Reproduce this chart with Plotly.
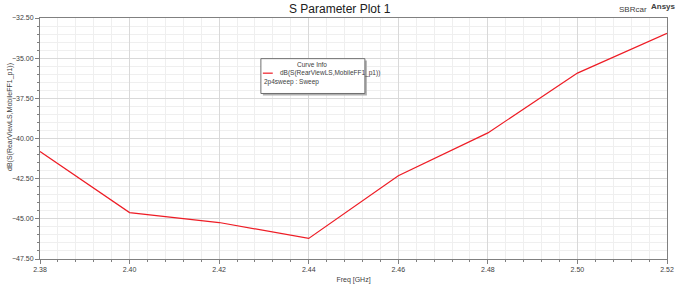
import plotly.graph_objects as go

freq = [2.38, 2.40, 2.42, 2.44, 2.46, 2.48, 2.50, 2.52]
db_s = [-40.81, -44.61, -45.23, -46.22, -42.32, -39.65, -35.93, -33.46]
trace_name = "dB(S(RearViewLS,MobileFF1_p1))"
x_ticks = [2.38, 2.40, 2.42, 2.44, 2.46, 2.48, 2.50, 2.52]
y_ticks = [-47.5, -45.0, -42.5, -40.0, -37.5, -35.0, -32.5]

W, H = 686, 294
L, R, T, B = 40, 13, 18, 27
pw, ph = W - L - R, H - T - B

def px(xp):
    return (xp - L) / pw

def py(yp):
    return (H - B - yp) / ph

FONT = "Liberation Sans, Arial, sans-serif"

fig = go.Figure()
fig.add_trace(go.Scatter(x=freq, y=db_s, mode="lines", name=trace_name,
                         line=dict(color="#ee1c25", width=1.2), showlegend=False))

axis_common = dict(
    showline=True, linecolor="#808080", linewidth=1, mirror=True,
    ticks="outside", ticklen=4, tickcolor="#808080",
    gridcolor="#d9d9d9", gridwidth=1, zeroline=False,
    tickfont=dict(family=FONT, size=7, color="#404040"),
)
fig.update_xaxes(range=[2.38, 2.52], tickvals=x_ticks, tickformat=".2f",
                 minor=dict(dtick=0.004, tick0=2.38, showgrid=True, gridcolor="#efefef",
                            ticks="outside", ticklen=2, tickcolor="#808080"),
                 title=dict(text="Freq [GHz]", font=dict(family=FONT, size=7, color="#404040"), standoff=4),
                 **axis_common)
fig.update_yaxes(range=[-47.5, -32.5], tickvals=y_ticks, tickformat=".2f",
                 minor=dict(dtick=0.5, tick0=-47.5, showgrid=True, gridcolor="#efefef",
                            ticks="outside", ticklen=2, tickcolor="#808080"),
                 **axis_common)

shapes = []
# legend shadow and box
shapes.append(dict(type="rect", xref="paper", yref="paper",
                   x0=px(265), x1=px(370), y0=py(98), y1=py(62),
                   fillcolor="#b0b0b0", line=dict(width=0), layer="above"))
shapes.append(dict(type="rect", xref="paper", yref="paper",
                   x0=px(263), x1=px(368), y0=py(96), y1=py(60),
                   fillcolor="white", line=dict(color="#707070", width=1), layer="above"))
shapes.append(dict(type="line", xref="paper", yref="paper",
                   x0=px(265), x1=px(275), y0=py(75), y1=py(75),
                   line=dict(color="#ee1c25", width=1.2), layer="above"))

def ann(text, x, y, size, xanchor="center", angle=0, color="#404040"):
    return dict(text=text, x=px(x), y=py(y), xref="paper", yref="paper",
                xanchor=xanchor, yanchor="middle", textangle=angle,
                showarrow=False, font=dict(family=FONT, size=size, color=color))

annotations = [
    ann("S Parameter Plot 1", 343, 9, 12, color="#202020"),
    ann("SBRcar", 639, 9, 8),
    ann("<b>Ansys</b>", 669, 6, 8),
    ann(trace_name, 9, 120, 7, angle=-90),
    ann("Curve Info", 315, 66, 6.5),
    ann(trace_name, 280, 75, 6.5, xanchor="left"),
    ann("2p4sweep : Sweep", 264, 84, 6.5, xanchor="left"),
]

fig.update_layout(width=W, height=H, margin=dict(l=L, r=R, t=T, b=B),
                  plot_bgcolor="white", paper_bgcolor="white",
                  shapes=shapes, annotations=annotations, showlegend=False)
fig.write_html("out.html")
